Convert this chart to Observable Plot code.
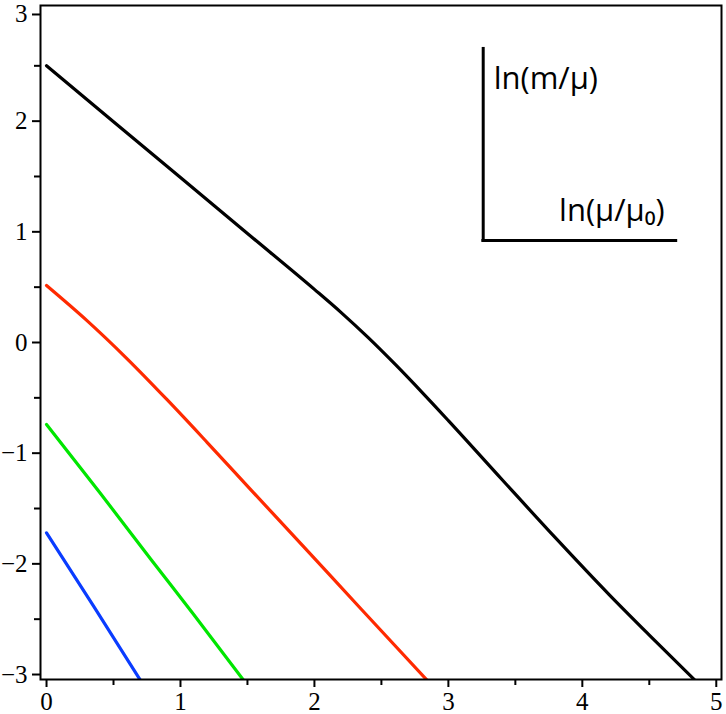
<!DOCTYPE html>
<html>
<head>
<meta charset="utf-8">
<script src="https://cdn.jsdelivr.net/npm/d3@7"></script>
<script src="https://cdn.jsdelivr.net/npm/@observablehq/plot@0.6"></script>
<style>
  html, body { margin: 0; padding: 0; background: #fff; }
</style>
</head>
<body>
<div id="chart"></div>
<script>
// ---- data ----
const blackX = [0, 0.5, 1, 1.5, 2.0, 2.2, 2.4, 2.6, 2.8, 3.0, 3.4, 3.8, 4.2, 4.5, 4.84];
const blackY = [2.50, 1.995, 1.49, 0.985, 0.48, 0.27, 0.046, -0.194, -0.446, -0.706, -1.238, -1.766, -2.278, -2.644, -3.05];

const redX = [0, 0.3, 0.6, 0.9, 1.2, 1.5, 1.9, 2.35, 2.84];
const redY = [0.515, 0.20, -0.145, -0.517, -0.904, -1.297, -1.82, -2.41, -3.05];

const greenX = [0, 0.4, 0.78, 1.1, 1.47];
const greenY = [-0.74, -1.36, -1.96, -2.46, -3.05];

const blueX = [0, 0.35, 0.7];
const blueY = [-1.72, -2.38, -3.05];

const xMajorTicks = [0, 1, 2, 3, 4, 5];
const xMinorTicks = [0.5, 1.5, 2.5, 3.5, 4.5];
const yMajorTicks = [-3, -2, -1, 0, 1, 2, 3];
const yMinorTicks = [-2.5, -1.5, -0.5, 0.5, 1.5, 2.5];

const yAxisLabel = "ln(m/μ)";
const xAxisLabel = "ln(μ/μ₀)";

const toRows = (xs, ys) => xs.map((x, i) => ({x, y: ys[i]}));
const black = toRows(blackX, blackY);
const red = toRows(redX, redY);
const green = toRows(greenX, greenY);
const blue = toRows(blueX, blueY);

const fmt = d => (d < 0 ? "\u2212" + Math.abs(d) : String(d));
const yTop = Math.max(...yMajorTicks);

const chart = Plot.plot({
  width: 726,
  height: 714,
  marginLeft: 40,
  marginRight: 5,
  marginTop: 5,
  marginBottom: 35,
  x: {domain: [-0.045, 5.039]},
  y: {domain: [-3.045, 3.045]},
  style: {fontFamily: "'Liberation Serif', 'Times New Roman', serif", fontSize: "25px", color: "#000", background: "#fff"},
  marks: [
    Plot.axisX(xMinorTicks, {tickSize: 6, strokeWidth: 2, tickFormat: () => "", label: null}),
    Plot.axisX(xMajorTicks, {tickSize: 8, strokeWidth: 2, tickPadding: 5, tickFormat: fmt, label: null, fontSize: 25}),
    Plot.axisY(yMinorTicks, {tickSize: 6, strokeWidth: 2, tickFormat: () => "", label: null}),
    Plot.axisY(yMajorTicks.filter(d => d < yTop), {tickSize: 8, strokeWidth: 2, tickPadding: 5, tickFormat: fmt, label: null, fontSize: 25}),
    Plot.axisY([yTop], {tickSize: 8, strokeWidth: 2, tickPadding: 5, tickFormat: fmt, label: null, fontSize: 25, dy: 4}),
    Plot.line(black, {x: "x", y: "y", stroke: "#000000", strokeWidth: 3.2, curve: "monotone-x", clip: true}),
    Plot.line(red, {x: "x", y: "y", stroke: "#ff2a00", strokeWidth: 3.2, curve: "monotone-x", clip: true}),
    Plot.line(green, {x: "x", y: "y", stroke: "#00e600", strokeWidth: 3.2, curve: "monotone-x", clip: true}),
    Plot.line(blue, {x: "x", y: "y", stroke: "#0a3cff", strokeWidth: 3.2, curve: "monotone-x", clip: true}),
    // inset axes annotation
    Plot.ruleX([3.26], {y1: 0.91, y2: 2.666, stroke: "#000", strokeWidth: 3}),
    Plot.ruleY([0.922], {x1: 3.25, x2: 4.712, stroke: "#000", strokeWidth: 3}),
    Plot.text([yAxisLabel], {x: 3.338, y: 2.293, text: d => d, textAnchor: "start", lineAnchor: "bottom", fontFamily: "'Open Sans', sans-serif", fontSize: 31, fill: "#000"}),
    Plot.text([xAxisLabel], {x: 4.615, y: 1.102, text: d => d, textAnchor: "end", lineAnchor: "bottom", fontFamily: "'Open Sans', sans-serif", fontSize: 31, fill: "#000"}),
    Plot.frame({stroke: "#000", strokeWidth: 2})
  ]
});
document.getElementById("chart").appendChild(chart);
</script>
</body>
</html>
